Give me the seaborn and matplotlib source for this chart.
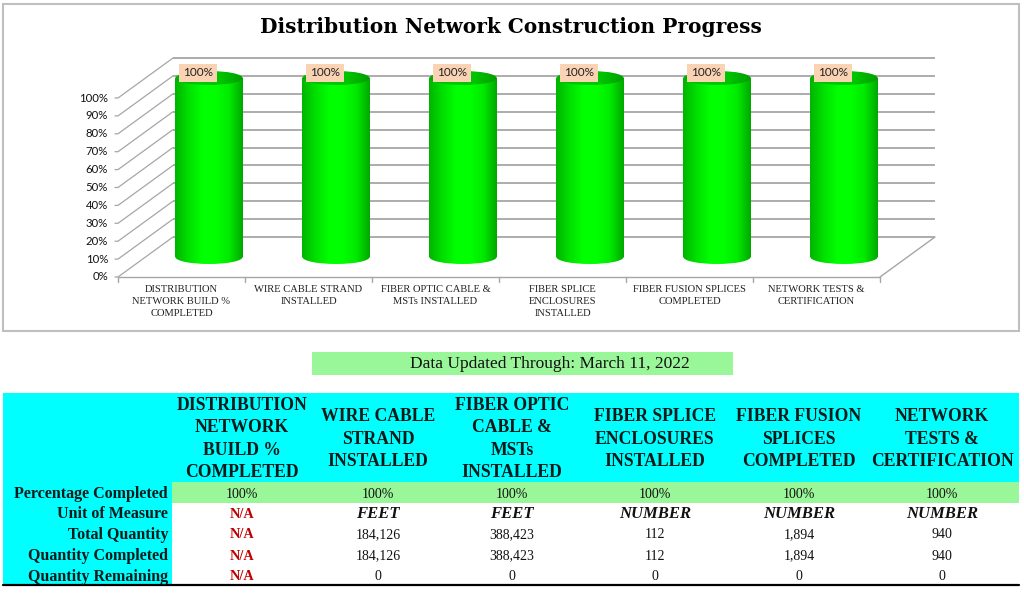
import numpy as np
import pandas as pd
import matplotlib
matplotlib.use("Agg")
import matplotlib.pyplot as plt
import seaborn as sns
from matplotlib.patches import Ellipse, Rectangle
from matplotlib.colors import LinearSegmentedColormap

# ---------------- data ----------------
title = "Distribution Network Construction Progress"
categories = [
    "DISTRIBUTION\nNETWORK BUILD %\nCOMPLETED",
    "WIRE CABLE STRAND\nINSTALLED",
    "FIBER OPTIC CABLE &\nMSTs INSTALLED",
    "FIBER SPLICE\nENCLOSURES\nINSTALLED",
    "FIBER FUSION SPLICES\nCOMPLETED",
    "NETWORK TESTS &\nCERTIFICATION",
]
percent_completed = [1.00, 1.00, 1.00, 1.00, 1.00, 1.00]
bar_labels = ["100%", "100%", "100%", "100%", "100%", "100%"]
y_ticks = [0.0, 0.1, 0.2, 0.3, 0.4, 0.5, 0.6, 0.7, 0.8, 0.9, 1.0]
y_tick_labels = ["0%", "10%", "20%", "30%", "40%", "50%", "60%", "70%", "80%", "90%", "100%"]

updated_text = "Data Updated Through: March 11, 2022"
table_headers = [
    "DISTRIBUTION\nNETWORK\nBUILD %\nCOMPLETED",
    "WIRE CABLE\nSTRAND\nINSTALLED",
    "FIBER OPTIC\nCABLE &\nMSTs\nINSTALLED",
    "FIBER SPLICE\nENCLOSURES\nINSTALLED",
    "FIBER FUSION\nSPLICES\nCOMPLETED",
    "NETWORK\nTESTS &\nCERTIFICATION",
]
row_labels = ["Percentage Completed", "Unit of Measure", "Total Quantity",
              "Quantity Completed", "Quantity Remaining"]
pct_row = ["100%", "100%", "100%", "100%", "100%", "100%"]
unit_of_measure = ["N/A", "FEET", "FEET", "NUMBER", "NUMBER", "NUMBER"]
total_quantity = ["N/A", "184,126", "388,423", "112", "1,894", "940"]
quantity_completed = ["N/A", "184,126", "388,423", "112", "1,894", "940"]
quantity_remaining = ["N/A", "0", "0", "0", "0", "0"]

# ---------------- figure ----------------
W, H = 1024, 611
fig = plt.figure(figsize=(W / 100, H / 100), dpi=100)
sns.set_style("white")

SERIF = "Liberation Serif"

# layout axes in pixel coordinates
lay = fig.add_axes([0, 0, 1, 1], zorder=0)
lay.set_xlim(0, W)
lay.set_ylim(H, 0)
lay.axis("off")

# chart panel
lay.add_patch(Rectangle((3, 4), 1016, 327, facecolor="white",
                        edgecolor="#BFBFBF", lw=1.5))
lay.text(511, 27, title, ha="center", va="center", fontsize=14.5,
         fontweight="bold", family="DejaVu Serif", color="black")

# main plot axes = mid-depth plane of the 3D chart (with margin)
x0p, x1p, ytp, ybp = 145.5, 907.5, 78, 257
ppx = (x1p - x0p) / 6.0   # pixels per x unit
ppy = (ybp - ytp) / 1.0   # pixels per y unit
YLO, YHI = -0.3, 1.3
ax_top = ytp - (YHI - 1) * ppy
ax_bot = ybp - YLO * ppy
ax = fig.add_axes([x0p / W, 1 - ax_bot / H, (x1p - x0p) / W, (ax_bot - ax_top) / H], zorder=1)
ax.patch.set_alpha(0)

df = pd.DataFrame({"cat": categories, "pct": percent_completed})
sns.barplot(data=df, x="cat", y="pct", width=0.53, color="#00FF00",
            linewidth=0, ax=ax)

ox, oy = 27.5 / ppx, 20.0 / ppy   # depth offset (half depth)
grid_c = "#A6A6A6"

# back wall gridlines
for yv in y_ticks:
    ax.plot([-0.5 + ox, 5.5 + ox], [yv + oy, yv + oy], color=grid_c,
            lw=1.3, clip_on=False, zorder=0.5, solid_capstyle="butt")
    # left wall diagonals
    ax.plot([-0.5 - ox - 3 / ppx, -0.5 - ox, -0.5 + ox],
            [yv - oy, yv - oy, yv + oy], color=grid_c, lw=0.9,
            clip_on=False, zorder=0.5)
# floor front edge and right edge
ax.plot([-0.5 - ox, 5.5 - ox], [-oy, -oy], color=grid_c, lw=1.0, clip_on=False, zorder=0.5)
ax.plot([5.5 - ox, 5.5 + ox], [-oy, oy], color=grid_c, lw=1.0, clip_on=False, zorder=0.5)
for k in range(7):
    ax.plot([-0.5 + k - ox] * 2, [-oy, -oy - 5 / ppy], color=grid_c, lw=1.0,
            clip_on=False, zorder=0.5)

# y tick labels on the front plane
for yv, lab in zip(y_ticks, y_tick_labels):
    ax.text(-0.5 - ox - 10 / ppx, yv - oy, lab, ha="right", va="center",
            fontsize=8.2, family="Lato", color="#111111", clip_on=False)

# category labels
for i, lab in enumerate(categories):
    ax.text(i - ox, -oy - 8 / ppy, lab, ha="center", va="top", fontsize=7.6,
            family=SERIF, color="#222222", linespacing=1.45, clip_on=False)

# cylinder rendering
body_cmap = LinearSegmentedColormap.from_list(
    "body", ["#00B400", "#00E000", "#00FF00", "#00FF00", "#00EA00", "#00A800"])
top_cmap = LinearSegmentedColormap.from_list(
    "top", ["#00B000", "#00C800", "#00C400", "#009E00"])
grad = np.linspace(0, 1, 256).reshape(1, -1)
eh = 14.0 / ppy

for p, lab in zip(ax.patches[:len(categories)], bar_labels):
    bx, bw, bh = p.get_x(), p.get_width(), p.get_height()
    xc = bx + bw / 2
    p.set_facecolor("none")
    p.set_edgecolor("none")
    im = ax.imshow(grad, extent=[bx, bx + bw, -eh, bh], aspect="auto",
                   cmap=body_cmap, origin="lower", zorder=2, interpolation="bilinear")
    im.set_clip_path(p)
    bot = Ellipse((xc, 0), bw, eh, facecolor="none", edgecolor="none")
    ax.add_patch(bot)
    im2 = ax.imshow(grad, extent=[bx, bx + bw, -eh, bh], aspect="auto",
                    cmap=body_cmap, origin="lower", zorder=2, interpolation="bilinear")
    im2.set_clip_path(bot)
    top = Ellipse((xc, bh), bw, eh, facecolor="none", edgecolor="none")
    ax.add_patch(top)
    im3 = ax.imshow(grad, extent=[bx, bx + bw, bh - eh, bh + eh], aspect="auto",
                    cmap=top_cmap, origin="lower", zorder=3, interpolation="bilinear")
    im3.set_clip_path(top)
    ax.text(xc - 11 / ppx, bh + 5 / ppy, lab, ha="center", va="center",
            fontsize=8.5, family="Lato", color="#222222", zorder=6,
            bbox=dict(boxstyle="square,pad=0.3", facecolor="#FAD3B4",
                      edgecolor="none"))

ax.set_xlim(-0.5, 5.5)
ax.set_ylim(YLO, YHI)
ax.axis("off")

# ---------------- table ----------------
green = "#99F799"
cyan = "#00FFFF"
lay.add_patch(Rectangle((312, 352), 421, 23, facecolor=green, edgecolor="none"))
lay.text(550, 364, updated_text, ha="center", va="center", fontsize=12.5,
         family=SERIF, color="#111111")

lay.add_patch(Rectangle((3, 393), 1016, 89, facecolor=cyan, edgecolor="none"))
lay.add_patch(Rectangle((3, 482), 169, 103, facecolor=cyan, edgecolor="none"))
lay.add_patch(Rectangle((172, 482), 847, 21, facecolor=green, edgecolor="none"))
lay.plot([3, 1019], [585, 585], color="black", lw=1.6)

col_x = [242, 378, 512, 655, 799, 942]
row_y = [494, 514, 535, 556, 577]

for cx, hdr in zip(col_x, table_headers):
    lay.text(cx, 439, hdr, ha="center", va="center", fontsize=12.7,
             fontweight="bold", family=SERIF, color="#0A1A1A", linespacing=1.42,
             multialignment="center")

for ry, lab in zip(row_y, row_labels):
    lay.text(168, ry, lab, ha="right", va="center", fontsize=11.5,
             fontweight="bold", family=SERIF, color="#0A1A1A")

rows = [pct_row, unit_of_measure, total_quantity, quantity_completed, quantity_remaining]
for r, (ry, vals) in enumerate(zip(row_y, rows)):
    for cx, v in zip(col_x, vals):
        if v == "N/A":
            lay.text(cx, ry, v, ha="center", va="center", fontsize=10.3,
                     fontweight="bold", family=SERIF, color="#C00000")
        elif r == 1:
            lay.text(cx, ry, v, ha="center", va="center", fontsize=12,
                     fontweight="bold", fontstyle="italic", family=SERIF,
                     color="#111111")
        else:
            lay.text(cx, ry, v, ha="center", va="center", fontsize=10,
                     family=SERIF, color="#111111")

fig.savefig("out.png", dpi=100)
